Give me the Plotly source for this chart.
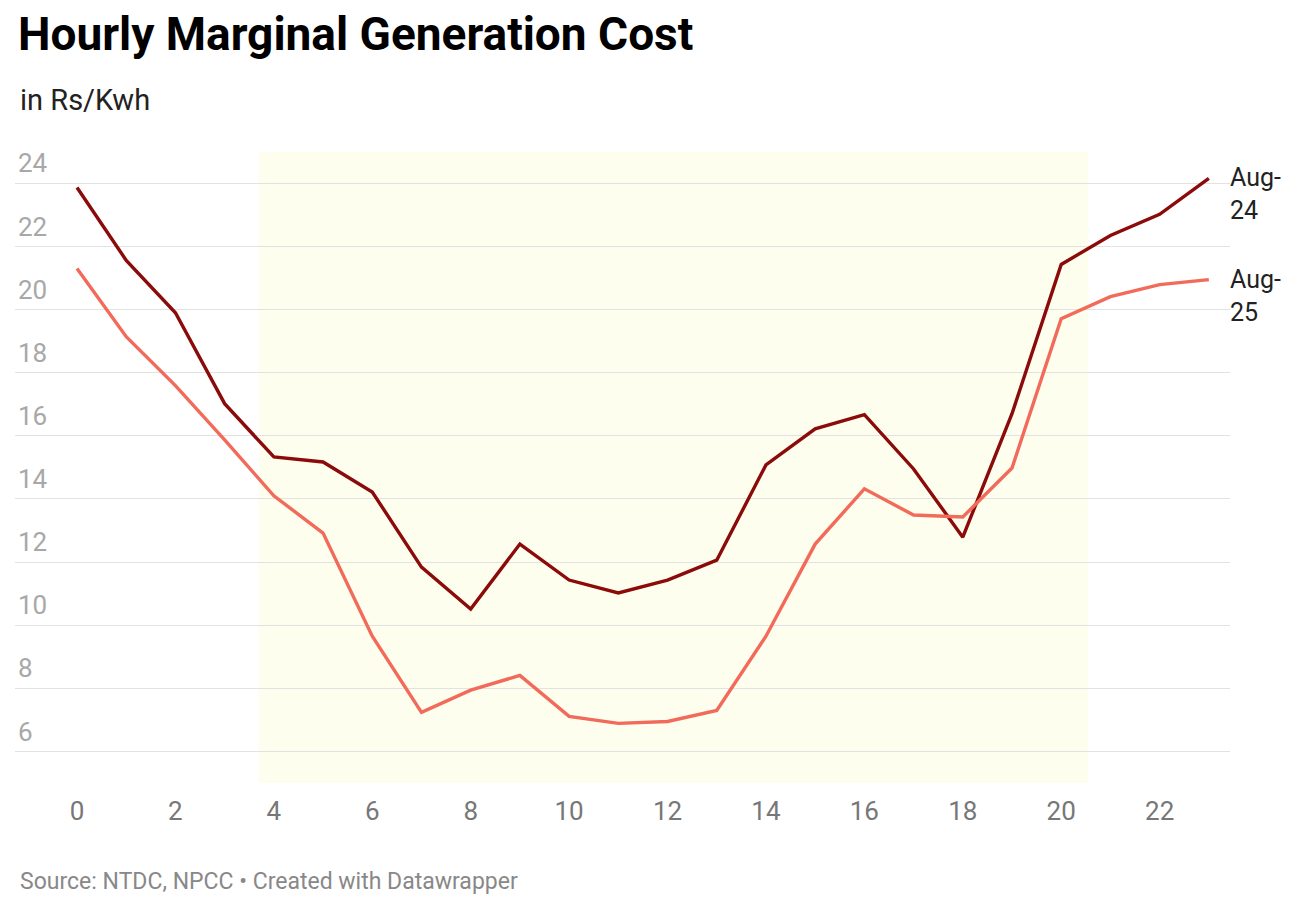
import plotly.graph_objects as go

hours = list(range(24))
aug24 = [23.87, 21.56, 19.9, 17.02, 15.33, 15.17, 14.22, 11.84, 10.51, 12.57, 11.43, 11.02,
         11.43, 12.06, 15.08, 16.22, 16.67, 14.95, 12.79, 16.7, 21.43, 22.35, 23.02, 24.16]
aug25 = [21.3, 19.14, 17.59, 15.87, 14.1, 12.92, 9.65, 7.24, 7.94, 8.41, 7.11, 6.89,
         6.95, 7.3, 9.65, 12.57, 14.32, 13.49, 13.43, 14.98, 19.71, 20.41, 20.79, 20.95]
series_names = ["Aug-<br>24", "Aug-<br>25"]
y_ticks = [6, 8, 10, 12, 14, 16, 18, 20, 22, 24]
x_ticks = [0, 2, 4, 6, 8, 10, 12, 14, 16, 18, 20, 22]
highlight = (3.7, 20.55)

FONT = "Roboto"
fig = go.Figure()

fig.add_shape(type="rect", xref="x", yref="y", x0=highlight[0], x1=highlight[1], y0=5, y1=25,
              fillcolor="#fefeee", line_width=0, layer="below")

fig.add_trace(go.Scatter(x=hours, y=aug24, mode="lines", line=dict(color="#8b0a0a", width=3.4),
                         showlegend=False, hoverinfo="x+y"))
fig.add_trace(go.Scatter(x=hours, y=aug25, mode="lines", line=dict(color="#f26a5a", width=3.4),
                         showlegend=False, hoverinfo="x+y"))

for name, vals in zip(series_names, [aug24, aug25]):
    fig.add_annotation(x=hours[-1], y=vals[-1], xref="x", yref="y", text=name, showarrow=False,
                       xanchor="left", yanchor="top", xshift=19, yshift=17, align="left",
                       font=dict(family=FONT, size=25, color="#222222"))

fig.update_layout(
    width=1292, height=903,
    paper_bgcolor="white", plot_bgcolor="white",
    margin=dict(l=15, r=62, t=136, b=120),
    font=dict(family=FONT),
    title=dict(text="<b>Hourly Marginal Generation Cost</b>", x=0, xref="paper", xanchor="left",
               y=1, yref="container", yanchor="top", pad=dict(t=18, l=3),
               font=dict(family=FONT, size=46, color="#000000")),
    xaxis=dict(range=[-1.26, 23.43], tickvals=x_ticks, showgrid=False, zeroline=False,
               showline=False, ticks="", ticklabelstandoff=10,
               tickfont=dict(family=FONT, size=26, color="#777777"), fixedrange=True),
    yaxis=dict(range=[5, 25.5], tickvals=y_ticks, showgrid=True, gridcolor="#e2e2e2", gridwidth=1,
               zeroline=False, showline=False, ticks="", ticklabelposition="inside",
               ticklabelshift=-20, ticklabelstandoff=0,
               tickfont=dict(family=FONT, size=26, color="#a8a8a8"), fixedrange=True),
)

fig.add_annotation(text="in Rs/Kwh", xref="paper", yref="paper", x=0, y=1, xshift=3,
                   yshift=136 - 100, xanchor="left", yanchor="middle", showarrow=False,
                   font=dict(family=FONT, size=29, color="#222222"))
fig.add_annotation(text="Source: NTDC, NPCC • Created with Datawrapper", xref="paper", yref="paper",
                   x=0, y=0, xshift=3, yshift=-(881 - 783), xanchor="left", yanchor="middle",
                   showarrow=False, font=dict(family=FONT, size=23, color="#888888"))

fig.write_html("out.html")
